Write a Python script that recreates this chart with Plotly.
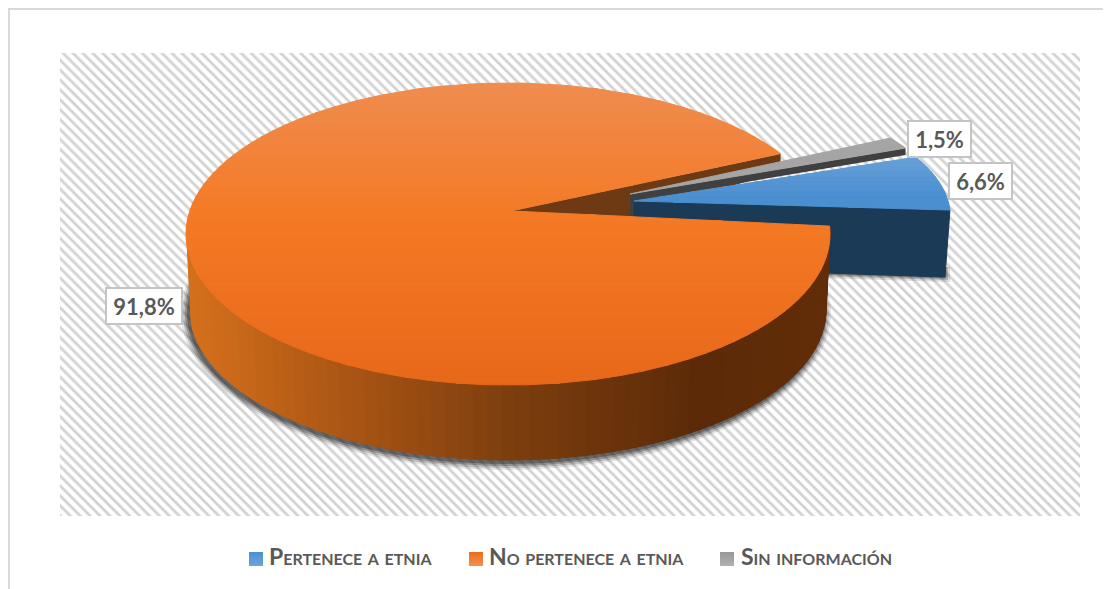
import math
import plotly.graph_objects as go

# ---- data ----
categories = ["Pertenece a etnia", "No pertenece a etnia", "Sin información"]
values = [6.6, 91.8, 1.5]
value_labels = ["6,6%", "91,8%", "1,5%"]

# ---- colours ----
TXT = "#595959"
BLUE_LOW = (74, 143, 208)
ORANGE_TOP = (239, 140, 80)
ORANGE_MID = (244, 122, 37)
ORANGE_LOW = (232, 104, 26)
legend_light = ["#6aa5de", "#f4914f", "#b0b0b0"]
legend_dark = ["#4a8fd0", "#ec6c1a", "#989898"]

# ---- pie projection: tilted ellipse, pixel-based axes ----
W, H = 1111, 589
OFF = 8  # the page body adds an 8px margin
START = 3.0
A, B = 322, 151
DEG = [v * 3.6 for v in values]
t_blue = (START, START + DEG[0])
t_gray = (t_blue[1], t_blue[1] + DEG[2])
t_orange = (t_gray[1], START + 360)

ORANGE = dict(c=(508, 234), a=A, b=B, apex=(511, 211))
BLUE_G = dict(c=(628.4, 217), a=A, b=133, apex=(634, 201))
GRAY_G = dict(c=(618, 203), a=A, b=122, apex=(630, 194))


def pt(g, t):
    r = math.radians(t)
    return (g["c"][0] + g["a"] * math.cos(r), g["c"][1] - g["b"] * math.sin(r))


def arc(g, t0, t1, n):
    return [pt(g, t0 + (t1 - t0) * i / n) for i in range(n + 1)]


def mix(c1, c2, f):
    return tuple(round(c1[i] + (c2[i] - c1[i]) * f) for i in range(3))


def css(c):
    return "rgb(%d,%d,%d)" % c


def clip(poly, y0, y1):
    def half(points, inside, cross):
        out = []
        for i, p in enumerate(points):
            q = points[(i + 1) % len(points)]
            if inside(p):
                out.append(p)
            if inside(p) != inside(q):
                out.append(cross(p, q))
        return out

    def cut(y):
        return lambda p, q: (p[0] + (q[0] - p[0]) * (y - p[1]) / (q[1] - p[1]), y)

    r = half(poly, lambda p: p[1] >= y0, cut(y0))
    if r:
        r = half(r, lambda p: p[1] <= y1, cut(y1))
    return r


fig = go.Figure()


def poly(points, color, line=None, **kw):
    xs = [p[0] for p in points] + [points[0][0]]
    ys = [p[1] for p in points] + [points[0][1]]
    fig.add_trace(go.Scatter(
        x=xs, y=ys, mode="lines", fill="toself", fillcolor=color,
        line=dict(width=1 if line else 0, color=line or "rgba(0,0,0,0)"),
        hoverinfo="skip", showlegend=False, **kw))


def banded(points, color_at, step):
    ys = [p[1] for p in points]
    y = min(ys)
    ymax = max(ys)
    while y < ymax:
        part = clip(points, y, y + step)
        if len(part) >= 3:
            c = css(color_at(y + step / 2))
            poly(part, c, line=c)
        y += step


# plot-area hatch
fig.add_trace(go.Scatter(
    x=[60, 1080, 1080, 60, 60], y=[53, 53, 516, 516, 53], mode="lines", fill="toself",
    fillcolor="white", line=dict(width=0, color="rgba(0,0,0,0)"),
    fillpattern=dict(shape="\\", size=7, solidity=0.4, fgcolor="#a6a6a6", bgcolor="white"),
    hoverinfo="skip", showlegend=False))

# soft shadows
BOTTOM = dict(c=(508, 310), a=318, b=150, apex=(511, 286))
for grow, alpha in ((7, 0.12), (5, 0.20), (3, 0.30), (1, 0.40)):
    g = dict(c=(506, 313), a=BOTTOM["a"] + grow, b=BOTTOM["b"] + grow, apex=(0, 0))
    poly(arc(g, 0, 360, 120), "rgba(40,40,40,%.2f)" % alpha)

# interior wall of the big slice
p_o = pt(ORANGE, t_orange[0])
poly([ORANGE["apex"], p_o, (p_o[0], p_o[1] + 18), (630, 216)], "#6e3a14")

# gray slice
p_g0, p_g1 = pt(GRAY_G, t_gray[0]), pt(GRAY_G, t_gray[1])
ax, ay = GRAY_G["apex"]
poly([(ax, ay), p_g0, (p_g0[0], p_g0[1] + 7), (ax + 4, ay + 7), (ax + 4, ay + 22), (ax, ay + 22)], "#404040")
poly([(ax, ay)] + arc(GRAY_G, t_gray[0], t_gray[1], 6), "#a5a5a5", line="#a5a5a5")

# blue slice
p_b0 = pt(BLUE_G, t_blue[0])
bx, by = BLUE_G["apex"]
blue_corner = (p_b0[0] - 5, p_b0[1] + 67)
for gr, al in ((5, 0.15), (3, 0.25), (1.5, 0.35)):
    poly([(blue_corner[0] + gr, blue_corner[1] - 10), (blue_corner[0] + gr, blue_corner[1] + gr),
          (blue_corner[0] - 220, blue_corner[1] - 7 + gr), (blue_corner[0] - 220, blue_corner[1] - 20)],
         "rgba(40,40,40,%.2f)" % al)
poly([(bx, by), p_b0, blue_corner, (bx + 100, by + 69), (bx, by + 30)], "#1b3a55", line="#1b3a55")
blue_top = [(bx, by)] + arc(BLUE_G, t_blue[0], t_blue[1], 16)
y_b = min(p[1] for p in blue_top)
banded(blue_top, lambda y: mix((104, 160, 216), BLUE_LOW, min(1, (y - y_b) / 40)), 5)

# big slice wall: strips darkening from left to right
N = 70
T0, T1 = 185.0, 363.0
wall_stops = [(188, (214, 113, 28)), (350, (170, 85, 20)), (510, (125, 62, 14)),
              (700, (92, 42, 8)), (830, (98, 45, 8))]


def wall_color(x):
    for (x0, c0), (x1, c1) in zip(wall_stops, wall_stops[1:]):
        if x <= x1:
            return mix(c0, c1, max(0, (x - x0) / (x1 - x0)))
    return wall_stops[-1][1]


for i in range(N):
    ta = T0 + (T1 - T0) * i / N
    tb = T0 + (T1 - T0) * (i + 1) / N + 0.3
    pts = [pt(ORANGE, ta), pt(ORANGE, tb), pt(BOTTOM, tb), pt(BOTTOM, ta)]
    c = css(wall_color(sum(p[0] for p in pts) / 4))
    poly(pts, c, line=c)

# big slice top
orange_top = [ORANGE["apex"]] + arc(ORANGE, t_orange[0], t_orange[1], 220)


def orange_color(y):
    if y < 215:
        return mix(ORANGE_TOP, ORANGE_MID, max(0, (y - 84) / 131))
    return mix(ORANGE_MID, ORANGE_LOW, min(1, (y - 215) / 170))


banded(orange_top, orange_color, 6)

# legend: swatches and names
swatch_x = [256, 476, 727]
text_x = [266.5, 486.5, 738.5]
LEG_Y = 559
fig.add_trace(go.Scatter(
    x=swatch_x, y=[LEG_Y] * 3, mode="markers", hoverinfo="skip", showlegend=False,
    marker=dict(symbol="square", size=14, color=legend_dark,
                gradient=dict(type="vertical", color=legend_light))))
for name, lx in zip(categories, text_x):
    fig.add_annotation(
        x=lx, y=LEG_Y - 3, text=name, showarrow=False, xanchor="left", yanchor="middle",
        font=dict(family="Lato", size=23, color=TXT, weight="bold", variant="small-caps"))

# value labels
label_boxes = [(980, 180.5), (144, 306), (939.5, 139)]
for txt, (lx, ly), w in zip(value_labels, label_boxes, (59, 72, 59)):
    fig.add_annotation(
        x=lx, y=ly, text="<b>%s</b>" % txt, showarrow=False, width=w, height=32,
        bgcolor="white", bordercolor="#c4c4c4", borderwidth=2, borderpad=1,
        font=dict(family="Lato", size=22, color=TXT), xanchor="center", yanchor="middle")

# outer chart border
fig.add_shape(type="line", x0=0, x1=1200, y0=9, y1=9, line=dict(color="#d9d9d9", width=2), layer="below")
fig.add_shape(type="line", x0=9, x1=9, y0=8, y1=700, line=dict(color="#d9d9d9", width=2), layer="below")

fig.update_layout(
    width=W, height=H, margin=dict(l=0, r=0, t=0, b=0),
    paper_bgcolor="white", plot_bgcolor="white",
    xaxis=dict(range=[OFF, W + OFF], visible=False, fixedrange=True),
    yaxis=dict(range=[H + OFF, OFF], visible=False, fixedrange=True),
    showlegend=False,
)

fig.write_html("out.html")
